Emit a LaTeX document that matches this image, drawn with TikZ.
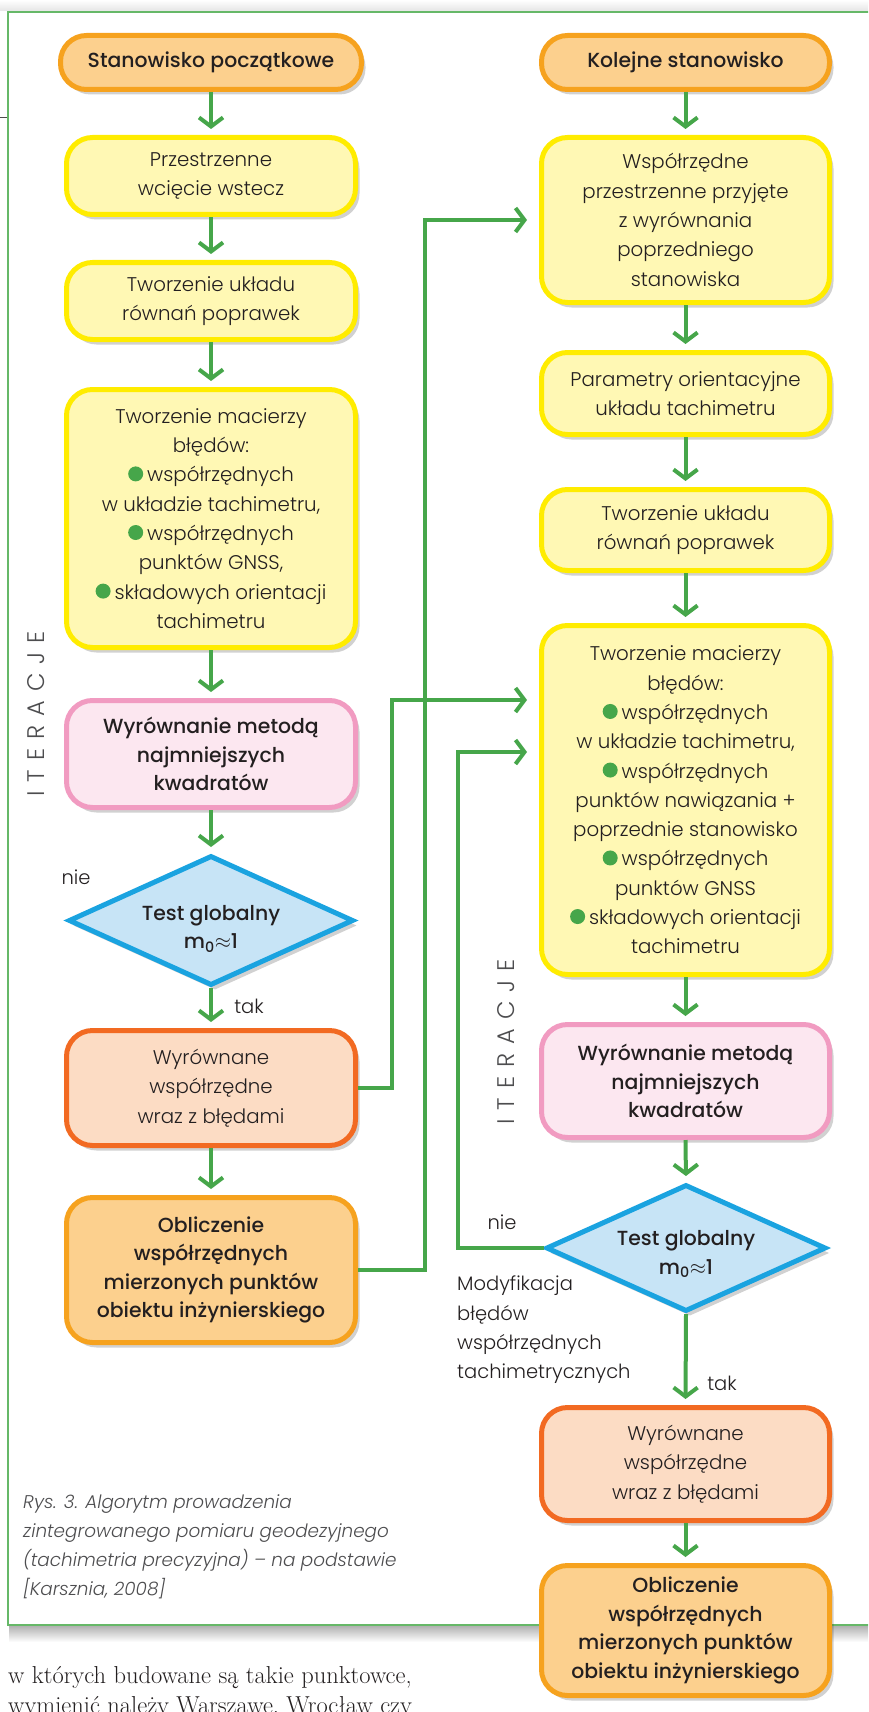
\documentclass[tikz,border=0pt]{standalone}
\usepackage{fontspec}
\newfontfamily\plight{Poppins Light}
\newfontfamily\pmed{Poppins Medium}
\usetikzlibrary{arrows.meta,shapes.geometric,shadows,calc}
\definecolor{txt}{HTML}{231F20}
\definecolor{gr}{HTML}{46A64A}
\definecolor{orF}{HTML}{FCD08E}
\definecolor{orD}{HTML}{F6A21E}
\definecolor{yeF}{HTML}{FFF8B4}
\definecolor{yeD}{HTML}{FFEC00}
\definecolor{piF}{HTML}{FCE7F0}
\definecolor{piD}{HTML}{F19BC1}
\definecolor{blF}{HTML}{C7E4F6}
\definecolor{blD}{HTML}{1AA3E0}
\definecolor{reF}{HTML}{FCDCC4}
\definecolor{reD}{HTML}{F26A22}
\definecolor{framec}{HTML}{66B868}
\definecolor{capc}{HTML}{4D4D4F}
\newcommand\bul{\tikz[baseline=-8pt]\fill[gr](0,0)circle[radius=7.5pt];\hspace{4pt}}
\newcommand\itr{I\hspace{9pt}T\hspace{9pt}E\hspace{9pt}R\hspace{9pt}A\hspace{9pt}C\hspace{9pt}J\hspace{9pt}E}
\tikzset{
  box/.style={rounded corners=26pt, line width=5pt, align=center, text=txt,
    inner sep=0pt, font=\plight\fontsize{19.8}{29.3}\selectfont,
    drop shadow={shadow xshift=4pt, shadow yshift=-5pt, fill=black, opacity=0.18}},
  boldtxt/.style={font=\pmed\fontsize{20.4}{28.5}\selectfont},
  ybox/.style={box, draw=yeD, fill=yeF},
  obox/.style={box, boldtxt, draw=orD, fill=orF},
  pbox/.style={box, boldtxt, draw=piD, fill=piF},
  rbox/.style={box, draw=reD, fill=reF},
  dec/.style={shape=diamond, aspect=2.2, line width=5pt, draw=blD, fill=blF,
    inner sep=0pt,
    drop shadow={shadow xshift=4pt, shadow yshift=-5pt, fill=black, opacity=0.18}},
  dectxt/.style={boldtxt, align=center, text=txt, inner sep=0pt},
  arr/.style={draw=gr, line width=4pt, shorten >=6pt,
    -{Straight Barb[length=9pt,width=24pt]}},
  conn/.style={arr, shorten >=12pt, line join=miter},
  lbl/.style={font=\plight\fontsize{19.5}{29.3}\selectfont, text=txt, inner sep=0pt},
  iter/.style={font=\plight\fontsize{24}{26}\selectfont, text=capc, rotate=90, inner sep=0pt},
  bodytxt/.style={anchor=base west, inner sep=0pt, text=txt, font=\rmfamily\fontsize{24.5}{30}\selectfont},
}
\begin{document}
\begin{tikzpicture}[x=1pt,y=-1pt]
\useasboundingbox (0,0) rectangle (868,1712);
\clip (0,0) rectangle (868,1712);
% page elements
\shade[top color=white, bottom color=black!10] (0,0) rectangle (868,11);
\shade[top color=black!30, bottom color=white] (9,1626) rectangle (868,1642);
\draw[framec, line width=1.5pt] (880,12) -- (8,12) -- (8,1625) -- (880,1625);
\draw[black!70, line width=1pt] (0,118) -- (7,118);

% left column
\node[obox, minimum width=301, minimum height=54] (L1) at (211,62.5) {Stanowisko początkowe};
\node[ybox, minimum width=289, minimum height=77] (L2) at (211,176) {Przestrzenne\\wcięcie wstecz};
\node[ybox, minimum width=289, minimum height=77] (L3) at (211,301) {Tworzenie układu\\równań poprawek};
\node[ybox, minimum width=289, minimum height=258] (L4) at (211,518.5) {Tworzenie macierzy\\błędów:\\\bul współrzędnych\\w układzie tachimetru,\\\bul współrzędnych\\punktów GNSS,\\\bul składowych orientacji\\tachimetru};
\node[pbox, minimum width=289, minimum height=107] (L5) at (211,754) {Wyrównanie metodą\\najmniejszych\\kwadratów};
\node[dec, minimum width=285, minimum height=130] (L6) at (211,920.5) {};
\node[dectxt] (L6t) at ([yshift=-8pt]L6.center) {Test globalny\\m\textsubscript{0}$\approx$1};
\node[rbox, minimum width=289, minimum height=115] (L7) at (211,1088) {Wyrównane\\współrzędne\\wraz z błędami};
\node[obox, minimum width=289, minimum height=145] (L8) at (211,1270) {Obliczenie\\współrzędnych\\mierzonych punktów\\obiektu inżynierskiego};

% right column
\node[obox, minimum width=288, minimum height=54] (R1) at (685.5,62.5) {Kolejne stanowisko};
\node[ybox, minimum width=288, minimum height=165] (R2) at (685.5,220) {Współrzędne\\przestrzenne przyjęte\\z wyrównania\\poprzedniego\\stanowiska};
\node[ybox, minimum width=288, minimum height=82] (R3) at (685.5,393.5) {Parametry orientacyjne\\układu tachimetru};
\node[ybox, minimum width=288, minimum height=81] (R4) at (685.5,530) {Tworzenie układu\\równań poprawek};
\node[ybox, minimum width=288, minimum height=349] (R5) at (685.5,800) {Tworzenie macierzy\\błędów:\\\bul współrzędnych\\w układzie tachimetru,\\\bul współrzędnych\\punktów nawiązania +\\poprzednie stanowisko\\\bul współrzędnych\\punktów GNSS\\\bul składowych orientacji\\tachimetru};
\node[pbox, minimum width=288, minimum height=113] (R6) at (685.5,1081) {Wyrównanie metodą\\najmniejszych\\kwadratów};
\node[dec, minimum width=280, minimum height=127] (R7) at (686,1248) {};
\node[dectxt] (R7t) at ([yshift=-6pt]R7.center) {Test globalny\\m\textsubscript{0}$\approx$1};
\node[rbox, minimum width=288, minimum height=113] (R8) at (685.5,1464) {Wyrównane\\współrzędne\\wraz z błędami};
\node[obox, minimum width=288, minimum height=130] (R9) at (685.5,1630.5) {Obliczenie\\współrzędnych\\mierzonych punktów\\obiektu inżynierskiego};

% column arrows
\foreach \a/\b in {L1/L2,L2/L3,L3/L4,L4/L5,L5/L6,L6/L7,L7/L8,R1/R2,R2/R3,R3/R4,R4/R5,R5/R6,R6/R7,R7/R8,R8/R9}
  \draw[arr] (\a.south) -- (\b.north);

% long connectors
\coordinate (k1) at (392,700);
\coordinate (k2) at (425,220);
\coordinate (k3) at (458,752);
\draw[conn] (L7.east) -| (k1) -- (k1 -| R5.west);
\draw[conn] (L8.east) -| (k2) -- (k2 -| R2.west);
\draw[conn] (R7.west) -| (k3) -- (k3 -| R5.west);

% labels
\node[lbl] (nie1) at (76,877) {nie};
\node[lbl] (tak1) at (249,1006) {tak};
\node[lbl] (nie2) at (502,1222) {nie};
\node[lbl] (tak2) at (722,1383) {tak};
\node[lbl, anchor=north west, align=left] (mod) at (457,1276) {Modyfikacja\\błędów\\współrzędnych\\tachimetrycznych};
\node[iter] (it1) at (36,714) {\itr};
\node[iter] (it2) at (506,1042) {\itr};

% caption
\node[anchor=north west, align=left, inner sep=0pt, text=capc,
  font=\plight\itshape\fontsize{18.4}{29.3}\selectfont] (cap) at (23,1494)
  {Rys. 3. Algorytm prowadzenia\\zintegrowanego pomiaru geodezyjnego\\(tachimetria precyzyjna) – na podstawie\\{[}Karsznia, 2008{]}};

% article text
\node[bodytxt] (body1) at (8,1683) {w których budowane są takie punktowce,};
\node[bodytxt] (body2) at (8,1713) {wymienić należy Warszawę, Wrocław czy};
\end{tikzpicture}
\end{document}
